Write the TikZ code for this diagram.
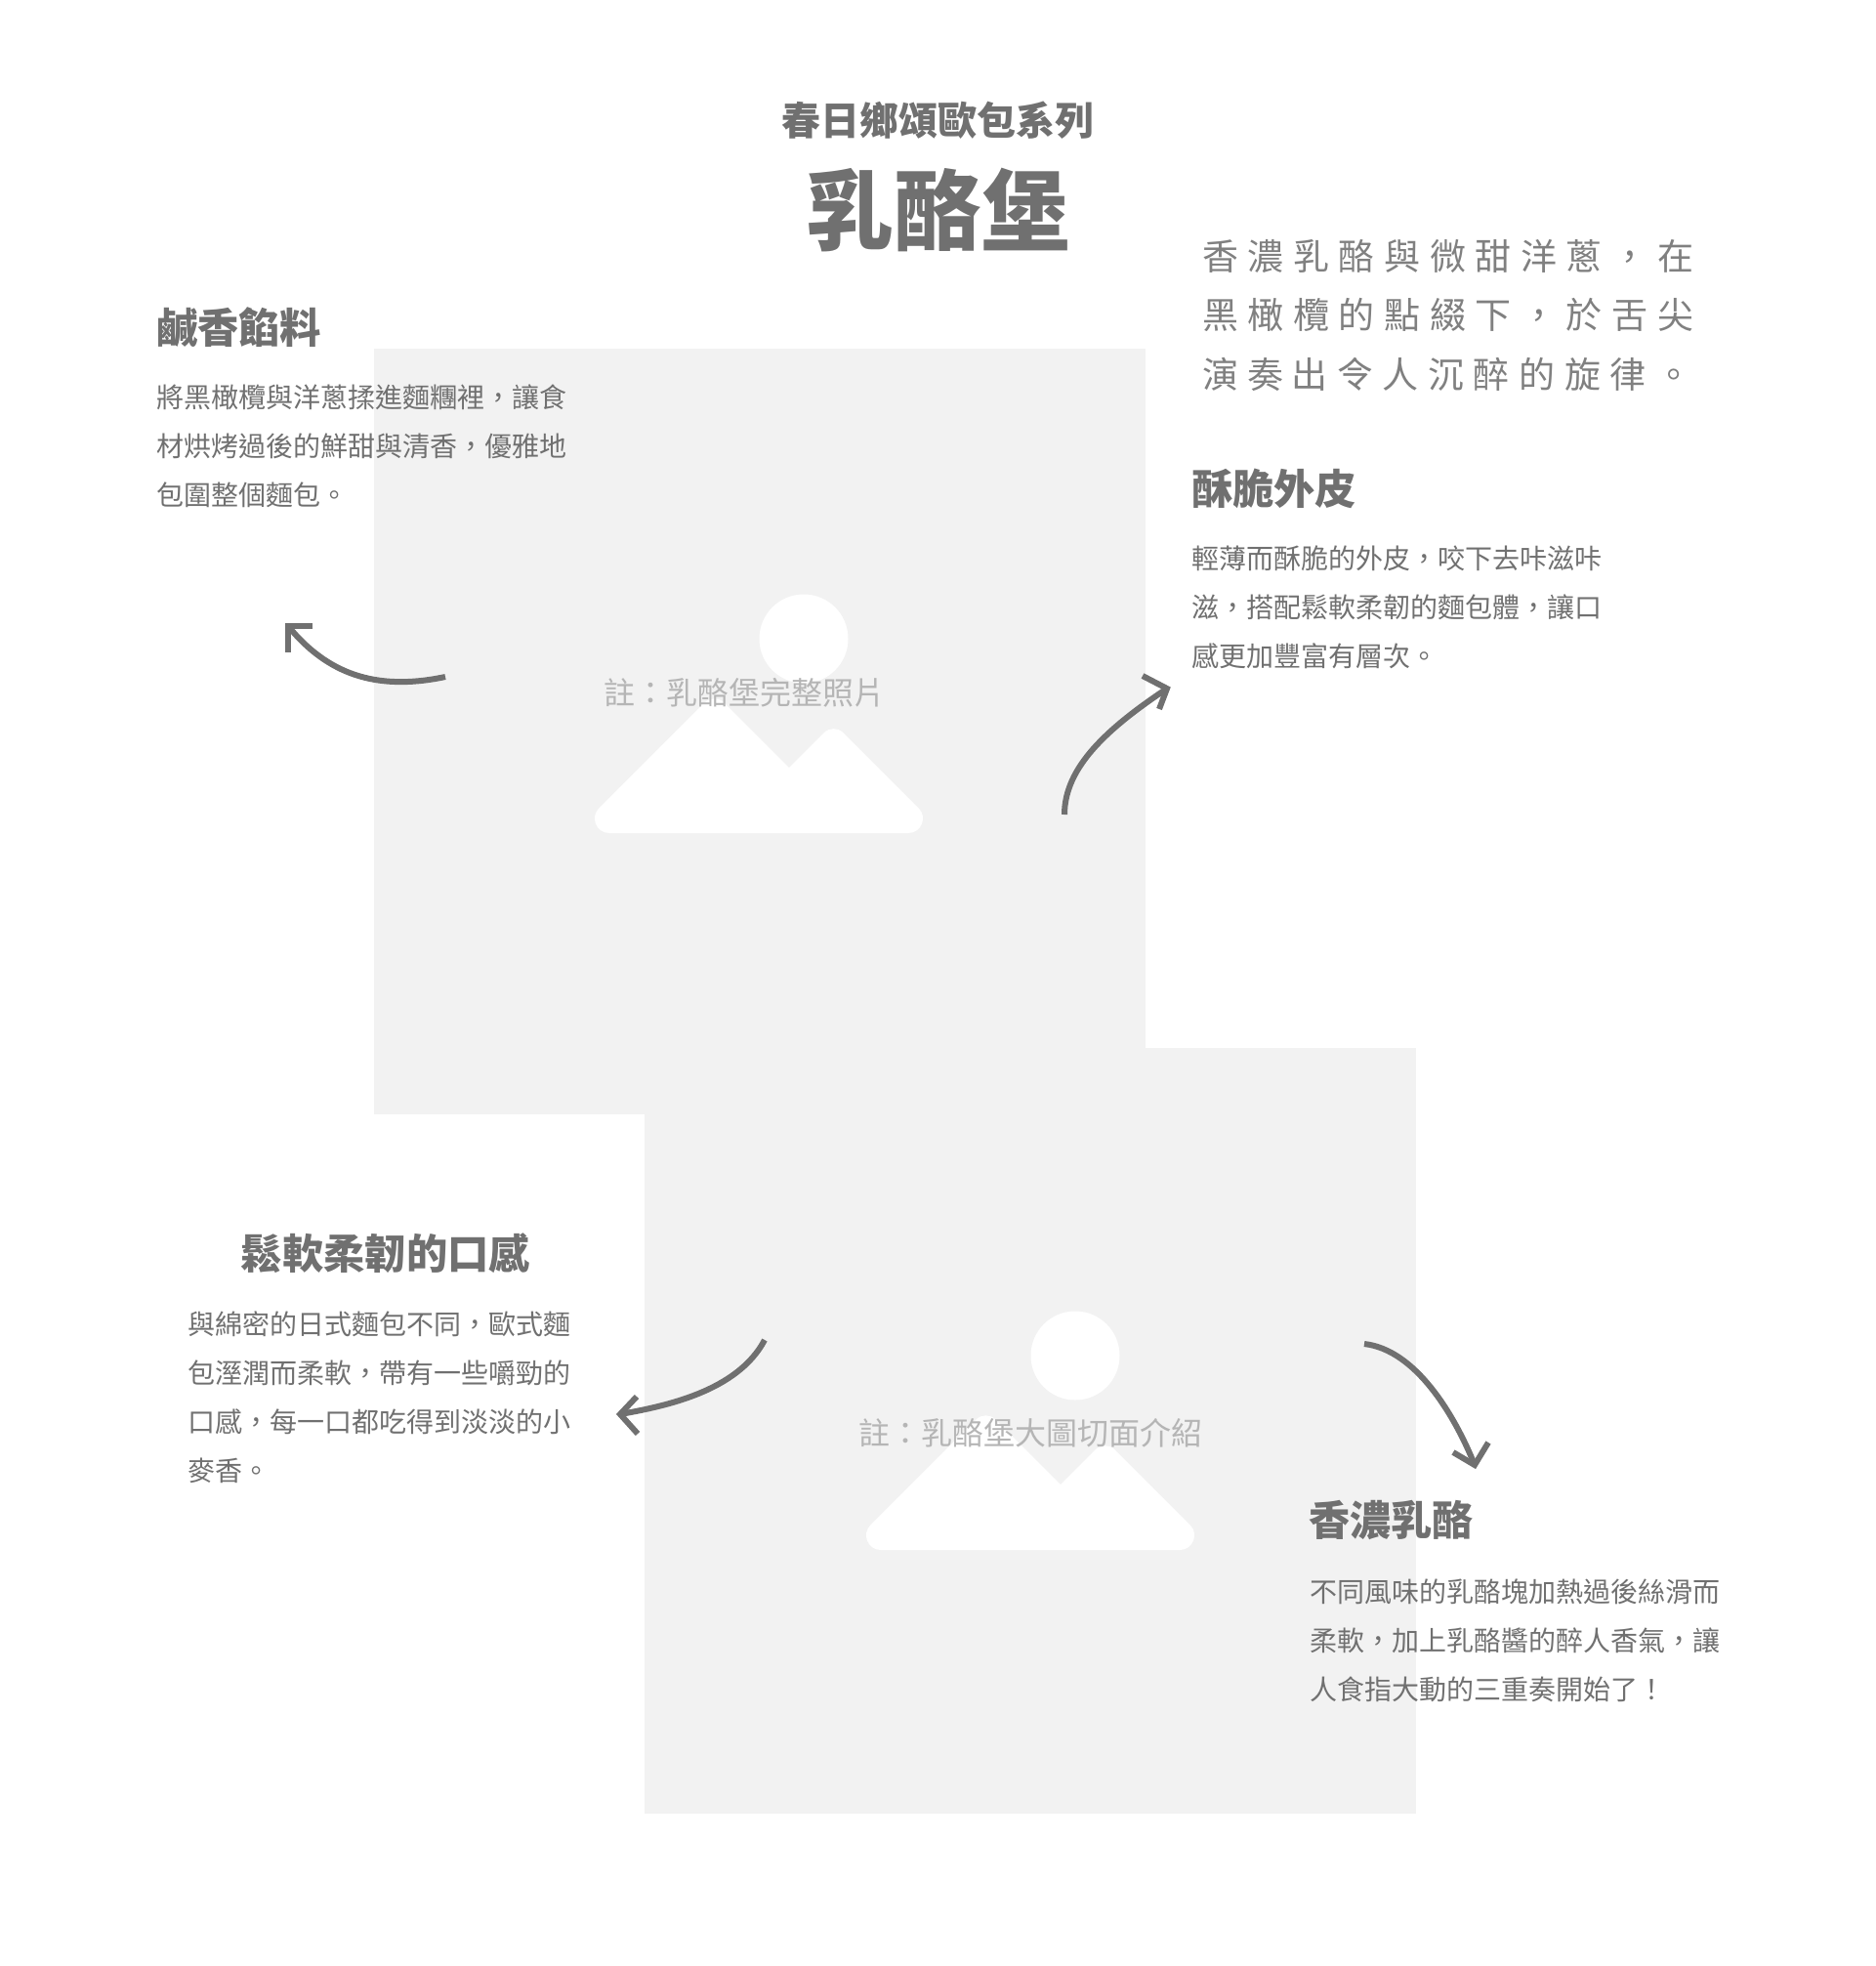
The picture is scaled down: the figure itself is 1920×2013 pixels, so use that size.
\documentclass[tikz,border=0pt]{standalone}
\usepackage{fontspec}
\setmainfont{Noto Sans CJK TC}
\newfontfamily\handfont[LetterSpace=26]{Noto Sans CJK TC}
\definecolor{ink}{HTML}{707070}
\definecolor{arrowc}{HTML}{707070}
\definecolor{ph}{HTML}{F2F2F2}
\definecolor{cap}{HTML}{B5B5B5}
\definecolor{handc}{HTML}{808080}
\tikzset{
 x=1pt,y=-1pt,
 every node/.style={inner sep=0pt,outer sep=0pt,text=ink},
 subtitle/.style={font=\fontsize{40}{48}\selectfont\bfseries},
 bigtitle/.style={font=\fontsize{90}{100}\selectfont\bfseries},
 heading/.style={font=\fontsize{42.3}{50}\selectfont\bfseries,anchor=west},
 body/.style={font=\fontsize{28}{50}\selectfont,align=left,anchor=north west},
 captiontext/.style={font=\fontsize{32}{40}\selectfont,text=cap},
 handtext/.style={font=\fontsize{37}{60.5}\handfont,align=left,anchor=north west,text=handc},
 curveline/.style={draw=arrowc,line width=6pt},
 headline/.style={draw=arrowc,line width=6pt,miter limit=10},
 phbox/.style={fill=ph},
}
\newcommand{\placeholder}[2]{\fill[phbox] (#1,#2) rectangle ++(790,784);}
\newcommand{\phicon}[2]{%
 \begin{scope}[shift={(#1,#2)}]
  \fill[white] (823,654) circle (45.5);
  \fill[white] (624,853) .. controls (610.6,853) and (603.95,836.85) .. (613.4,827.4)
    [rounded corners=14] -- (731.5,709.5) [sharp corners] -- (808,786) [rounded corners=14] -- (853.6,740.4) [sharp corners] -- (940.6,827.4)
    .. controls (950.05,836.85) and (943.4,853) .. (930,853) -- cycle;
 \end{scope}}
\begin{document}
\begin{tikzpicture}
\useasboundingbox (0,0) rectangle (1920,2013);
\placeholder{383}{357}
\placeholder{660}{1073}
\phicon{0}{0}
\phicon{278}{734}
\node[captiontext] (capA) at (762,709) {註：乳酪堡完整照片};
\node[captiontext] (capB) at (1055,1467) {註：乳酪堡大圖切面介紹};
\node[subtitle] (sub) at (960,123) {春日鄉頌歐包系列};
\node[bigtitle] (main) at (960,215) {乳酪堡};
\node[handtext] (hand) at (1231,245) {香濃乳酪與微甜洋蔥，在\\黑橄欖的點綴下，於舌尖\\演奏 \kern-10pt 出令人沉醉的旋律。};
\node[heading] (h1) at (160,335) {鹹香餡料};
\node[body] (b1) at (160,394) {將黑橄欖與洋蔥揉進麵糰裡，讓食\\材烘烤過後的鮮甜與清香，優雅地\\包圍整個麵包。};
\node[heading] (h2) at (1220,500) {酥脆外皮};
\node[body] (b2) at (1220,559) {輕薄而酥脆的外皮，咬下去咔滋咔\\滋，搭配鬆軟柔韌的麵包體，讓口\\感更加豐富有層次。};
\node[heading,anchor=center] (h3) at (395,1283) {鬆軟柔韌的口感};
\node[body] (b3) at (192,1343) {與綿密的日式麵包不同，歐式麵\\包溼潤而柔軟，帶有一些嚼勁的\\口感，每一口都吃得到淡淡的小\\麥香。};
\node[heading] (h4) at (1340,1557) {香濃乳酪};
\node[body] (b4) at (1341,1617) {不同風味的乳酪塊加熱過後絲滑而\\柔軟，加上乳酪醬的醉人香氣，讓\\人食指大動的三重奏開始了！};
% arrows
\coordinate (a1s) at (456,693); \coordinate (a1t) at (295,641);
\coordinate (a2s) at (1090,834); \coordinate (a2t) at (1195,705);
\coordinate (a3s) at (783,1372); \coordinate (a3t) at (635,1448);
\coordinate (a4s) at (1397,1376); \coordinate (a4t) at (1510,1500);
\draw[curveline] (a1s) .. controls (385,708) and (335,690) .. (a1t);
\draw[headline] (320,641) -- (a1t) -- (295,668);
\draw[curveline] (a2s) .. controls (1090,785) and (1135,745) .. (a2t);
\draw[headline] (1170,692) -- (a2t) -- (1187,726);
\draw[curveline] (a3s) .. controls (755,1425) and (680,1440) .. (a3t);
\draw[headline] (652,1430) -- (a3t) -- (653,1468);
\draw[curveline] (a4s) .. controls (1450,1382) and (1490,1450) .. (a4t);
\draw[headline] (1488,1487) -- (a4t) -- (1524,1477);
\end{tikzpicture}
\end{document}
